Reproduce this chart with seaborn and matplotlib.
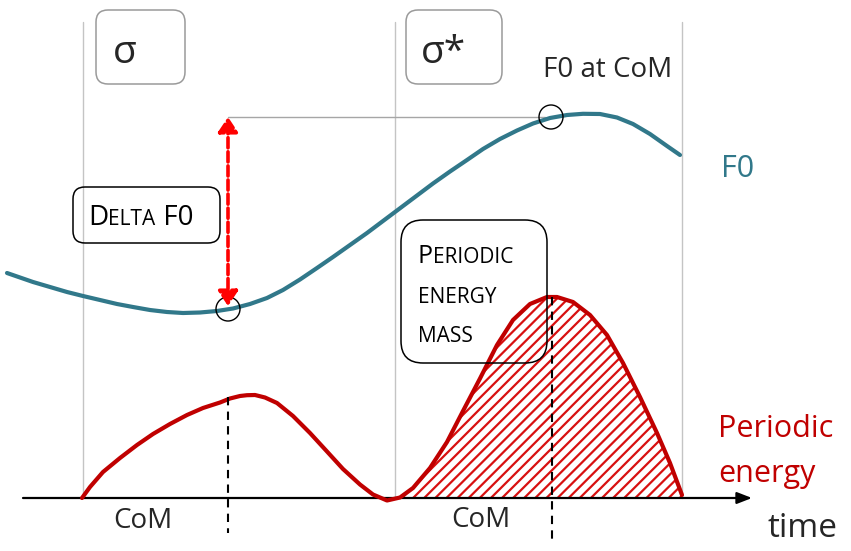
import matplotlib
matplotlib.use("Agg")
import matplotlib.pyplot as plt
from matplotlib.patches import FancyBboxPatch, Circle
import seaborn as sns

# ---------------- data (pixel-like units, y grows downward) ----
f0_t = [7, 33, 67, 83, 100, 117, 133, 150, 167, 183, 200, 217, 233, 250, 267, 283, 300,
        317, 333, 350, 367, 383, 395, 417, 433, 450, 467, 483, 500, 517, 533, 550, 567,
        583, 600, 617, 633, 650, 667, 680]
f0_y = [273, 282, 292, 296, 300, 304, 307, 310, 312, 313, 312.5, 311, 308.5, 304, 298, 290, 279.5,
        268, 257, 245, 233, 221, 212, 195.5, 183.5, 171.5, 160, 149, 139, 130.5, 123.5, 118, 115,
        113.8, 114, 117.5, 124, 134, 146, 155]

energy_t = [82, 90, 103, 120, 137, 153, 170, 187, 203, 220, 230, 240, 247, 255, 265, 277, 293,
            310, 327, 343, 360, 373, 387, 400, 413, 430, 447, 463, 480, 497, 513, 530, 547,
            557, 573, 590, 607, 623, 640, 657, 670, 682]
energy_y = [498, 487, 472, 458, 445, 434, 424, 415, 408, 402.5, 398.5, 396, 395.2, 395, 397.5, 403, 416,
            433, 451.5, 469, 484.5, 494.5, 500.5, 497.5, 488, 468, 442, 411, 378.5, 345, 320, 304, 297,
            297, 302, 315, 335, 363, 397, 433, 463, 495]

syllable_bounds = [83, 395, 682]
syllable_labels = ["σ", "σ*"]
com_times = [228, 552]
com_label = "CoM"
baseline_level = 498
mass_start = 387

# ---------------- styling ----------------
sns.set_style("white")
plt.rcParams['font.family'] = ['Open Sans', 'DejaVu Sans']
plt.rcParams['font.weight'] = 500
plt.rcParams['hatch.linewidth'] = 1.6

TEAL = "#31788A"
DRED = "#C00000"
RED = "#FF0000"

fig = plt.figure(figsize=(8.51, 5.51), dpi=100)
ax = fig.add_axes([0, 0, 1, 1])
ax.set_xlim(0, 851)
ax.set_ylim(551, 0)
ax.axis("off")

# syllable boundaries
for xb in syllable_bounds:
    ax.plot([xb, xb], [22, baseline_level], color="#C4C4C4", lw=1.0, zorder=1)

# time axis
ax.annotate("", xy=(752, baseline_level), xytext=(23, baseline_level),
            arrowprops=dict(arrowstyle="-|>,head_length=0.9,head_width=0.35",
                            color="black", lw=1.6, shrinkA=0, shrinkB=0), zorder=3)

# periodic energy mass (hatched)
mt = [t for t in energy_t if t >= mass_start]
my = [y for t, y in zip(energy_t, energy_y) if t >= mass_start]
ax.fill_between(mt, my, baseline_level, facecolor="white", edgecolor="#D81010",
                hatch="///", linewidth=0, zorder=2)

# curves
sns.lineplot(x=energy_t, y=energy_y, ax=ax, color=DRED, linewidth=3.0,
             sort=False, estimator=None, zorder=4)
sns.lineplot(x=f0_t, y=f0_y, ax=ax, color=TEAL, linewidth=3.0,
             sort=False, estimator=None, zorder=4)
for l in ax.lines:
    l.set_solid_capstyle("round")
    l.set_solid_joinstyle("round")

# CoM dashed verticals
ax.plot([com_times[0], com_times[0]], [397, 533], color="black", lw=1.5,
        ls=(0, (4, 3)), zorder=5)
ax.plot([com_times[1], com_times[1]], [297, 543], color="black", lw=1.5,
        ls=(0, (4, 3)), zorder=5)

# reference line & circles
ax.plot([228, 545], [117, 117], color="#A6A6A6", lw=1.0, zorder=1)
ax.add_patch(Circle((551, 117), 12, fill=False, ec="black", lw=1.0, zorder=6))
ax.add_patch(Circle((228, 309), 12, fill=False, ec="black", lw=1.0, zorder=6))

# delta arrow
ax.annotate("", xy=(228, 117), xytext=(228, 306),
            arrowprops=dict(arrowstyle="<|-|>,head_length=0.9,head_width=0.6",
                            color=RED, lw=2.6, linestyle=(0, (2.8, 1.1)),
                            shrinkA=0, shrinkB=0), zorder=6)

# boxes
def rbox(x0, y0, x1, y1, ec, r):
    ax.add_patch(FancyBboxPatch((x0, y0), x1 - x0, y1 - y0,
                                boxstyle=f"round,pad=0,rounding_size={r}",
                                fill=False, ec=ec, lw=1.1, zorder=7))

rbox(96, 10, 185, 84, "#9A9A9A", 12)
rbox(406, 10, 502, 84, "#9A9A9A", 12)
rbox(73, 187, 220, 243, "black", 12)
rbox(401, 220, 547, 363, "black", 22)

# syllable labels
ax.text(113, 63, syllable_labels[0], fontsize=28, va="baseline", ha="left", zorder=8)
ax.text(421, 63, syllable_labels[1], fontsize=28, va="baseline", ha="left", zorder=8)

# small caps helper
def smallcaps(x, y, parts, big=20, small=15, color="black"):
    prev = None
    for txt, is_big in parts:
        fs = big if is_big else small
        if prev is None:
            prev = ax.text(x, y, txt, fontsize=fs, va="baseline", ha="left",
                           color=color, zorder=8)
        else:
            prev = ax.annotate(txt, xy=(1, y), xycoords=(prev, "data"),
                               fontsize=fs, va="baseline", ha="left",
                               color=color, zorder=8)

smallcaps(88, 225, [("D", True), ("ELTA", False), (" F0", True)], big=20, small=15)
smallcaps(418, 263, [("P", True), ("ERIODIC", False)], big=18, small=15)
smallcaps(418, 303, [("ENERGY", False)], big=18, small=15)
smallcaps(418, 342, [("MASS", False)], big=18, small=15)

# other labels
ax.text(543, 77, "F0 at CoM", fontsize=20, va="baseline", ha="left", zorder=8)
ax.text(721, 177, "F0", fontsize=22, va="baseline", ha="left", color=TEAL, zorder=8)
ax.text(718, 437, "Periodic", fontsize=22, va="baseline", ha="left", color=DRED, zorder=8)
ax.text(718, 482, "energy", fontsize=22, va="baseline", ha="left", color=DRED, zorder=8)
ax.text(768, 537, "time", fontsize=24, va="baseline", ha="left", zorder=8)
ax.text(143, 528, com_label, fontsize=20, va="baseline", ha="center", zorder=8)
ax.text(481, 527, com_label, fontsize=20, va="baseline", ha="center", zorder=8)

fig.savefig("out.png", dpi=100)
